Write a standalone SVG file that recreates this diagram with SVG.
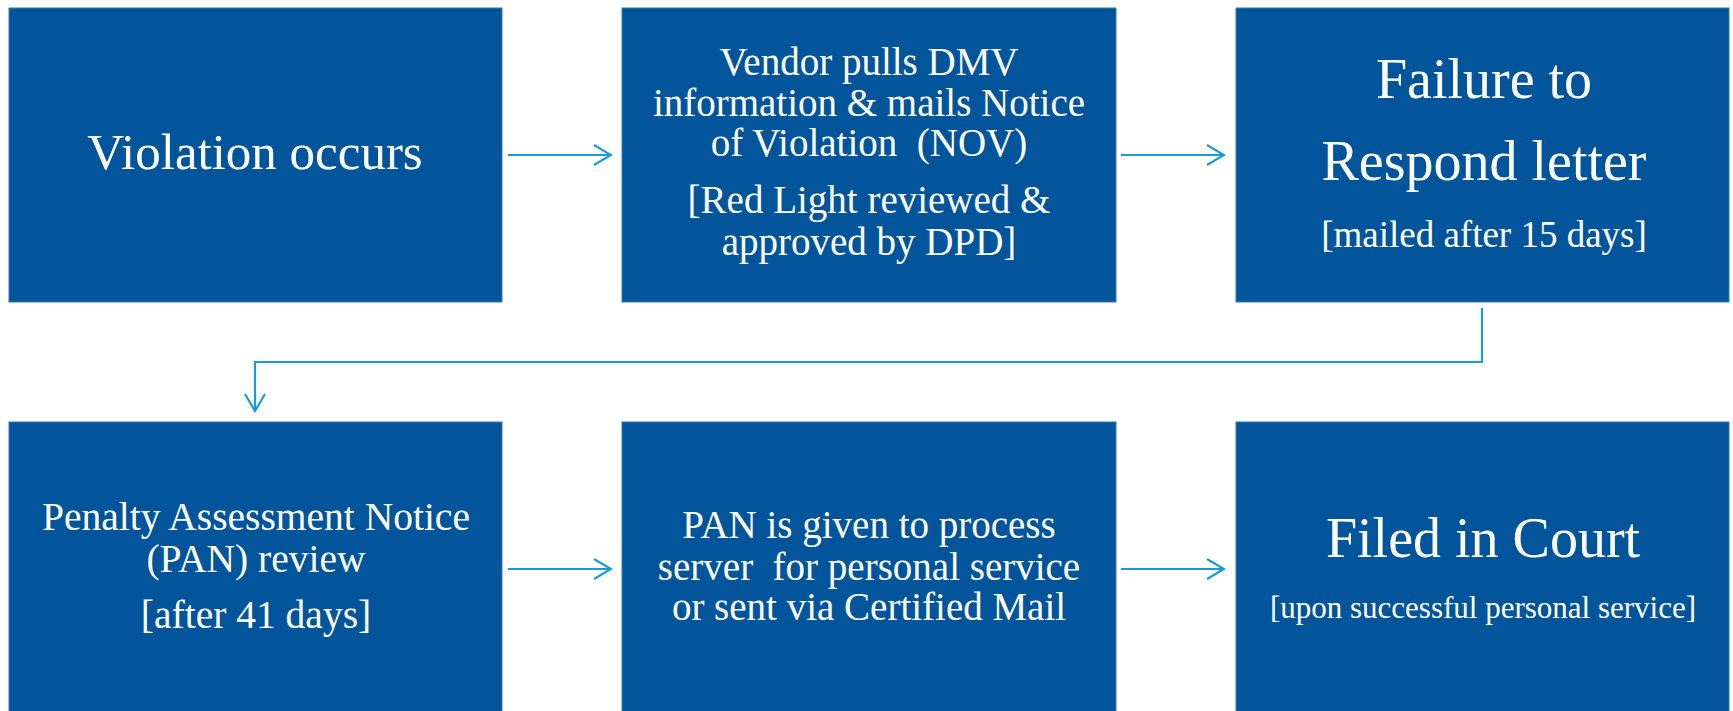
<svg xmlns="http://www.w3.org/2000/svg" width="1733" height="711" viewBox="0 0 1733 711">
<style>
.box{fill:#02559a;stroke:#3b78b4;stroke-width:1}
.t{font-family:"Liberation Serif","Times New Roman",serif;fill:#ffffff;text-anchor:middle;white-space:pre}
.c{fill:none;stroke:#1a9bd7;stroke-width:2.2}
</style>
<defs>
<marker id="ah" viewBox="0 0 20 22" refX="18" refY="11" markerWidth="20" markerHeight="22" markerUnits="userSpaceOnUse" orient="auto">
<path d="M1,1 L18,11 L1,21" fill="none" stroke="#1a9bd7" stroke-width="2.2"/>
</marker>
</defs>
<g id="connectors">
<line class="c" x1="508" y1="155" x2="611" y2="155" marker-end="url(#ah)"/>
<line class="c" x1="1121" y1="155" x2="1224" y2="155" marker-end="url(#ah)"/>
<polyline class="c" points="1482,308 1482,362 255,362 255,411" marker-end="url(#ah)"/>
<line class="c" x1="508" y1="569" x2="611" y2="569" marker-end="url(#ah)"/>
<line class="c" x1="1121" y1="569" x2="1224" y2="569" marker-end="url(#ah)"/>
</g>
<g id="node1">
<rect class="box" x="9" y="8" width="493" height="294"/>
<text class="t" x="255" y="169" font-size="51">Violation occurs</text>
</g>
<g id="node2">
<rect class="box" x="622" y="8" width="494" height="294"/>
<text class="t" font-size="39"><tspan x="869" y="75">Vendor pulls DMV</tspan><tspan x="869" y="116">information &amp; mails Notice</tspan><tspan x="869" y="156">of Violation  (NOV)</tspan><tspan x="869" y="213">[Red Light reviewed &amp;</tspan><tspan x="869" y="255">approved by DPD]</tspan></text>
</g>
<g id="node3">
<rect class="box" x="1236" y="8" width="493" height="294"/>
<text class="t" font-size="56"><tspan x="1484" y="98">Failure to</tspan><tspan x="1484" y="180">Respond letter</tspan></text>
<text class="t" x="1484" y="247" font-size="37">[mailed after 15 days]</text>
</g>
<g id="node4">
<rect class="box" x="9" y="422" width="493" height="300"/>
<text class="t" font-size="39.5"><tspan x="256" y="530">Penalty Assessment Notice</tspan><tspan x="256" y="572">(PAN) review</tspan><tspan x="256" y="628">[after 41 days]</tspan></text>
</g>
<g id="node5">
<rect class="box" x="622" y="422" width="494" height="300"/>
<text class="t" font-size="39"><tspan x="869" y="538">PAN is given to process</tspan><tspan x="869" y="580">server  for personal service</tspan><tspan x="869" y="620">or sent via Certified Mail</tspan></text>
</g>
<g id="node6">
<rect class="box" x="1236" y="422" width="493" height="300"/>
<text class="t" x="1483" y="557" font-size="56">Filed in Court</text>
<text class="t" x="1483" y="618" font-size="31">[upon successful personal service]</text>
</g>
</svg>
